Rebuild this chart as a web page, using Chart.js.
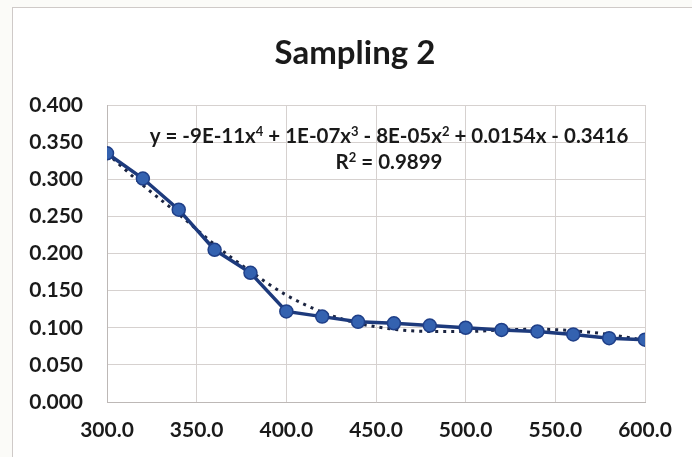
<!DOCTYPE html>
<html>
<head>
<meta charset="utf-8">
<script src="https://cdn.jsdelivr.net/npm/chart.js@4"></script>
<style>
    body { margin: 0; background: #fbfbf8; }
    #wrap { width: 692px; height: 457px; }
</style>
</head>
<body>
<div id="wrap"><canvas id="chart" width="692" height="457"></canvas></div>
<script>
// Sampling 2 data
const xValues = [300, 320, 340, 360, 380, 400, 420, 440, 460, 480, 500, 520, 540, 560, 580, 600];
const yValues = [0.335, 0.301, 0.259, 0.205, 0.174, 0.122, 0.115, 0.108, 0.106, 0.103, 0.100, 0.097, 0.095, 0.091, 0.086, 0.084];
// dotted poly trendline as seen in the picture
const trendValues = [0.335, 0.292, 0.253, 0.212, 0.176, 0.144, 0.121, 0.106, 0.098, 0.095, 0.095, 0.097, 0.098, 0.096, 0.091, 0.083];

const xTicks = [300, 350, 400, 450, 500, 550, 600];
const yTicks = [0, 0.05, 0.1, 0.15, 0.2, 0.25, 0.3, 0.35, 0.4];

const chartTitle = 'Sampling 2';
// equation text pieces, sup = superscript
const equationParts = [
    { t: 'y = -9E-11x' }, { t: '4', sup: true },
    { t: ' + 1E-07x' }, { t: '3', sup: true },
    { t: ' - 8E-05x' }, { t: '2', sup: true },
    { t: ' + 0.0154x - 0.3416' }
];
const rSquaredParts = [{ t: 'R' }, { t: '2', sup: true }, { t: ' = 0.9899' }];

const FONT = 'Lato, "Open Sans", sans-serif';

// Excel-ish chart frame
const framePlugin = {
    id: 'frame',
    beforeDraw(chart) {
        const ctx = chart.ctx;
        ctx.save();
        ctx.fillStyle = '#ffffff';
        ctx.fillRect(12, 7, 680, 450);
        ctx.strokeStyle = '#cfcac8';
        ctx.lineWidth = 1;
        ctx.strokeRect(12.5, 7.5, 700, 470);
        ctx.restore();
    }
};

function drawParts(ctx, parts, cx, baseline, size) {
    const supSize = Math.round(size * 0.65);
    let total = 0;
    parts.forEach(p => {
        ctx.font = `bold ${p.sup ? supSize : size}px ${FONT}`;
        p.w = ctx.measureText(p.t).width;
        total += p.w;
    });
    let x = cx - total / 2;
    parts.forEach(p => {
        ctx.font = `bold ${p.sup ? supSize : size}px ${FONT}`;
        ctx.fillText(p.t, x, p.sup ? baseline - size * 0.36 : baseline);
        x += p.w;
    });
}

// title + trendline label (title sits a bit left of the plot centre in the original)
const textPlugin = {
    id: 'texts',
    afterDraw(chart) {
        const ctx = chart.ctx;
        ctx.save();
        ctx.fillStyle = '#1a1a1a';
        ctx.textBaseline = 'alphabetic';
        ctx.textAlign = 'center';
        ctx.font = `bold 33px ${FONT}`;
        ctx.fillText(chartTitle, 355, 64);
        ctx.textAlign = 'left';
        drawParts(ctx, equationParts, 389, 143, 20.5);
        drawParts(ctx, rSquaredParts, 389, 169, 20.5);
        ctx.restore();
    }
};

new Chart(document.getElementById('chart'), {
    type: 'line',
    data: {
        datasets: [
            {
                label: 'Sampling 2',
                data: xValues.map((x, i) => ({ x: x, y: yValues[i] })),
                borderColor: '#1d3a7c',
                backgroundColor: '#3462b0',
                pointBorderColor: '#1f3f88',
                pointBackgroundColor: '#3462b0',
                borderWidth: 3.5,
                pointRadius: 6.5,
                pointBorderWidth: 1.5,
                tension: 0,
                order: 1
            },
            {
                label: 'Poly. (Sampling 2)',
                data: xValues.map((x, i) => ({ x: x, y: trendValues[i] })),
                borderColor: '#1b2440',
                borderWidth: 3,
                borderDash: [3, 5],
                pointRadius: 0,
                cubicInterpolationMode: 'monotone',
                order: 2
            }
        ]
    },
    options: {
        responsive: false,
        animation: false,
        layout: { padding: { left: 18, right: 47, top: 105, bottom: 0 } },
        plugins: {
            legend: { display: false },
            tooltip: { enabled: false },
            title: { display: false }
        },
        scales: {
            x: {
                type: 'linear',
                min: 300,
                max: 600,
                afterBuildTicks: axis => { axis.ticks = xTicks.map(v => ({ value: v })); },
                afterFit: axis => { axis.height = 55; },
                ticks: {
                    color: '#1a1a1a',
                    font: { family: FONT, size: 21, weight: 'bold' },
                    padding: 16,
                    maxRotation: 0,
                    callback: v => Number(v).toFixed(1)
                },
                grid: { color: '#d6d1cf', tickLength: 0 },
                border: { color: '#bdb8b6' }
            },
            y: {
                min: 0,
                max: 0.4,
                afterBuildTicks: axis => { axis.ticks = yTicks.map(v => ({ value: v })); },
                afterFit: axis => { axis.width = 89; },
                ticks: {
                    color: '#1a1a1a',
                    font: { family: FONT, size: 21, weight: 'bold' },
                    padding: 24,
                    callback: v => Number(v).toFixed(3)
                },
                grid: { color: '#d6d1cf', tickLength: 0 },
                border: { color: '#bdb8b6' }
            }
        }
    },
    plugins: [framePlugin, textPlugin]
});
</script>
</body>
</html>
